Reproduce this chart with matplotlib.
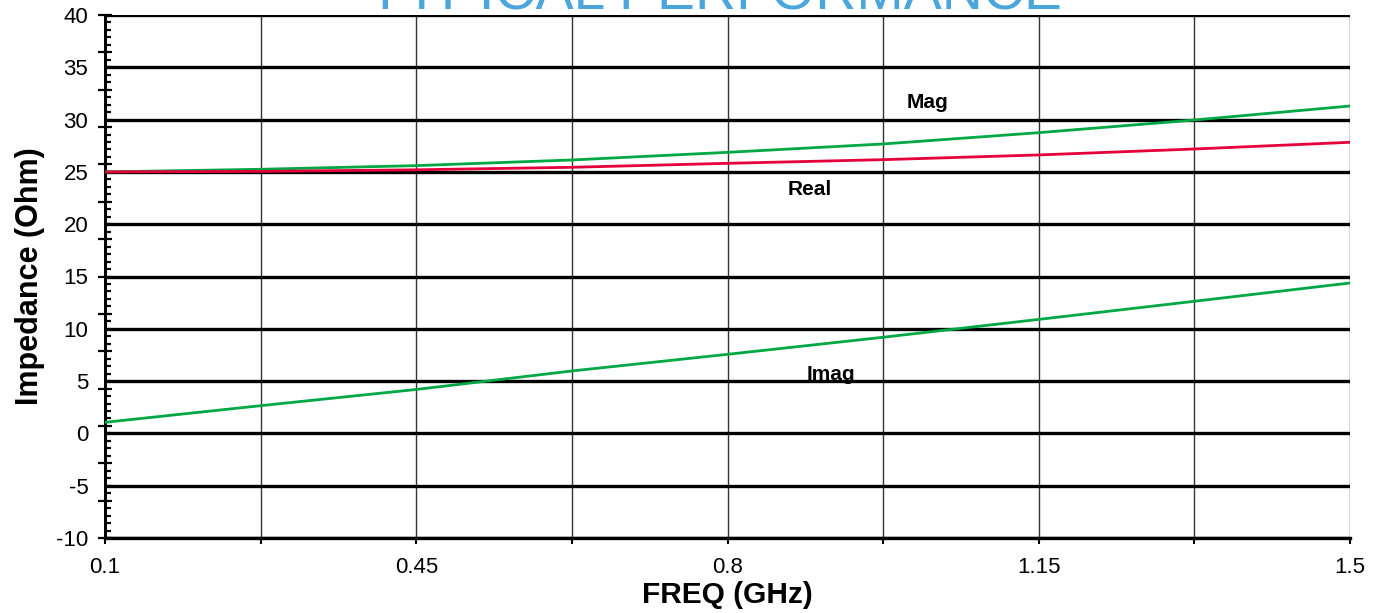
import numpy as np
import matplotlib
matplotlib.use("Agg")
import matplotlib.pyplot as plt
from matplotlib.ticker import FixedLocator

plt.rcParams['font.family'] = ['Liberation Sans', 'DejaVu Sans']
plt.rcParams['axes.unicode_minus'] = False

# frequency points (GHz) and impedance (Ohm)
freq = [0.1, 0.275, 0.45, 0.625, 0.8, 0.975, 1.15, 1.325, 1.5]
mag = [25.0, 25.25, 25.6, 26.14, 26.87, 27.67, 28.75, 29.96, 31.3]
real = [25.0, 25.05, 25.2, 25.44, 25.82, 26.17, 26.62, 27.19, 27.83]
imag = [1.06, 2.65, 4.2, 5.97, 7.56, 9.19, 10.9, 12.63, 14.38]

x_ticks = [0.1, 0.275, 0.45, 0.625, 0.8, 0.975, 1.15, 1.325, 1.5]
x_labels = ['0.1', '', '0.45', '', '0.8', '', '1.15', '', '1.5']
y_ticks = [-10, -5, 0, 5, 10, 15, 20, 25, 30, 35, 40]

green = '#00A844'
red = '#E4003A'

fig = plt.figure(figsize=(13.74, 6.13), dpi=100)
ax = fig.add_axes([105 / 1374, 1 - 538 / 613, 1245 / 1374, 523 / 613])

ax.plot(freq, mag, color=green, lw=2, zorder=3)
ax.plot(freq, real, color=red, lw=2, zorder=3)
ax.plot(freq, imag, color=green, lw=2, zorder=3)

ax.set_xlim(0.1, 1.5)
ax.set_ylim(-10, 40)

ax.set_xticks(x_ticks)
ax.set_xticklabels(x_labels)
ax.set_yticks(y_ticks)
ax.tick_params(axis='y', which='major', length=0, pad=12, labelsize=16)
ax.tick_params(axis='x', which='major', direction='out', length=4, width=1.5,
               pad=10, labelsize=16)

# grid: thick black horizontals, thin vertical lines
ax.yaxis.grid(True, color='black', lw=2.4)
ax.xaxis.grid(True, color='#333333', lw=1)
ax.set_axisbelow(True)

for s in ['top', 'right']:
    ax.spines[s].set_visible(False)
ax.spines['left'].set_linewidth(2)
ax.spines['bottom'].set_linewidth(2.4)

# odd tick marks on the left spine
sec = ax.secondary_yaxis('left')
marks = [-10 + k * 50 / 14 for k in range(15)]
small = [-10 + k * 50 / 70 for k in range(71)]
sec.set_yticks(marks)
sec.set_yticklabels([])
sec.yaxis.set_minor_locator(FixedLocator(small))
sec.tick_params(which='major', direction='inout', length=10, width=1.6)
sec.tick_params(which='minor', direction='in', length=4.5, width=1.6)
sec.spines['left'].set_linewidth(2)

ax.set_xlabel('FREQ (GHz)', fontsize=21.5, fontweight='bold', labelpad=2)
ax.set_ylabel('Impedance (Ohm)', fontsize=22, fontweight='bold', labelpad=8)

ax.text(1.025, 31.6, 'Mag', fontsize=15, fontweight='bold', ha='center', va='center')
ax.text(0.893, 23.3, 'Real', fontsize=15, fontweight='bold', ha='center', va='center')
ax.text(0.916, 5.6, 'Imag', fontsize=15, fontweight='bold', ha='center', va='center')

fig.text(715 / 1374, 1 - 9 / 613, 'TYPICAL PERFORMANCE', color='#4BA6DC',
         fontsize=41, ha='center', va='baseline')

fig.savefig('out.png', dpi=100)
